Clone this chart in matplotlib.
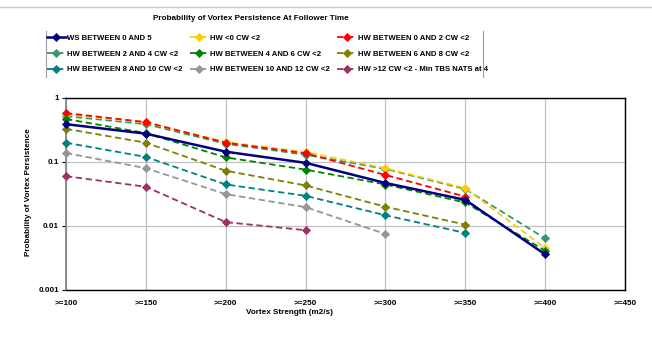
import matplotlib
matplotlib.use("Agg")
import matplotlib.pyplot as plt
from matplotlib.lines import Line2D
import numpy as np

plt.rcParams['font.family'] = ['Liberation Sans', 'DejaVu Sans']

categories = [">=100", ">=150", ">=200", ">=250", ">=300", ">=350", ">=400", ">=450"]

ws_0_5      = [0.39, 0.277, 0.145, 0.097, 0.047, 0.0256, 0.0036, None]
hw_lt0      = [0.55, 0.416, 0.205, 0.143, 0.080, 0.039, 0.0045, None]
hw_0_2      = [0.58, 0.42, 0.20, 0.137, 0.0627, 0.0288, None, None]
hw_2_4      = [0.52, 0.39, 0.193, 0.13, 0.078, 0.0377, 0.0064, None]
hw_4_6      = [0.47, 0.283, 0.118, 0.076, 0.0445, 0.0233, 0.0041, None]
hw_6_8      = [0.33, 0.20, 0.073, 0.043, 0.020, 0.0105, None, None]
hw_8_10     = [0.20, 0.12, 0.0446, 0.0296, 0.0147, 0.0078, None, None]
hw_10_12    = [0.138, 0.080, 0.0315, 0.0197, 0.0075, None, None, None]
hw_gt12     = [0.060, 0.041, 0.0115, 0.0086, None, None, None, None]

series_names = ["WS BETWEEN 0 AND 5", "HW <0 CW <2", "HW BETWEEN 0 AND 2 CW <2",
                "HW BETWEEN 2 AND 4 CW <2", "HW BETWEEN 4 AND 6 CW <2", "HW BETWEEN 6 AND 8 CW <2",
                "HW BETWEEN 8 AND 10 CW <2", "HW BETWEEN 10 AND 12 CW <2",
                "HW >12 CW <2 - Min TBS NATS at 4"]
series_vals = [ws_0_5, hw_lt0, hw_0_2, hw_2_4, hw_4_6, hw_6_8, hw_8_10, hw_10_12, hw_gt12]
colors = ["#000080", "#FFCC00", "#FF0000", "#339966", "#008000", "#808000",
          "#008080", "#969696", "#993366"]

fig = plt.figure(figsize=(6.52, 3.43), dpi=100)
ax = fig.add_axes([66/652, 1-290/343, (625-66)/652, (290-98)/343])

x = np.arange(len(categories))
order_draw = [8, 7, 6, 5, 3, 1, 2, 4, 0]
hdict = {}
for i in order_draw:
    vals = np.array([np.nan if v is None else v for v in series_vals[i]], dtype=float)
    ls = '-' if i == 0 else (0, (3.5, 2))
    lw = 1.8 if i == 0 else 1.3
    h, = ax.plot(x, vals, color=colors[i], linestyle=ls, linewidth=lw,
                 marker='D', markersize=4.2, markeredgewidth=0.6,
                 markeredgecolor=colors[i], label=series_names[i], clip_on=False, zorder=3)
    hdict[i] = h

FS = 5.9
ax.set_yscale('log')
ax.set_ylim(0.001, 1)
ax.set_xlim(0, 7)
ax.set_xticks(x)
ax.set_xticklabels(categories)
ax.set_yticks([0.001, 0.01, 0.1, 1])
ax.set_yticklabels(["0.001", "0.01", "0.1", "1"])
ax.yaxis.set_minor_locator(matplotlib.ticker.NullLocator())
ax.tick_params(axis='x', length=0, pad=7, labelsize=FS)
ax.tick_params(axis='y', length=3, width=0.8, pad=2, labelsize=FS)
for lab in ax.get_xticklabels() + ax.get_yticklabels():
    lab.set_fontweight('bold')

ax.grid(True, which='major', color='#c0c0c0', linewidth=0.9, zorder=0)
ax.set_axisbelow(True)
for s in ['top', 'right', 'bottom']:
    ax.spines[s].set_color('black')
    ax.spines[s].set_linewidth(1.0)
ax.spines['left'].set_color('#808080')
ax.spines['left'].set_linewidth(1.2)

fig.text(29/652, 1-192/343, "Probability of Vortex Persistence", rotation=90,
         ha='center', va='center', fontsize=FS, fontweight='bold')
fig.text(290/652, 1-313/343, "Vortex Strength (m2/s)", ha='center', va='center',
         fontsize=FS, fontweight='bold')
fig.text(251/652, 1-18.5/343, "Probability of Vortex Persistence At Follower Time",
         ha='center', va='center', fontsize=FS, fontweight='bold')

leg_order = [0, 3, 6, 1, 4, 7, 2, 5, 8]
leg = fig.legend([hdict[i] for i in leg_order], [series_names[i] for i in leg_order],
                 ncol=3, loc='upper left', bbox_to_anchor=(47/652, 1-34.5/343),
                 frameon=False, handlelength=2.4, handletextpad=0.2,
                 columnspacing=0.95, labelspacing=1.06, borderpad=0.0, borderaxespad=0,
                 prop={'weight': 'bold', 'size': 5.6})

fig.add_artist(Line2D([46/652, 46/652], [1-31/343, 1-77/343], color='#a0a0a0', lw=0.8))
fig.add_artist(Line2D([483/652, 483/652], [1-31/343, 1-77/343], color='#a0a0a0', lw=0.8))
fig.add_artist(Line2D([0, 1], [1-7/343, 1-7/343], color='#c8c8c8', lw=1.0))

fig.savefig("out.png", dpi=100)
